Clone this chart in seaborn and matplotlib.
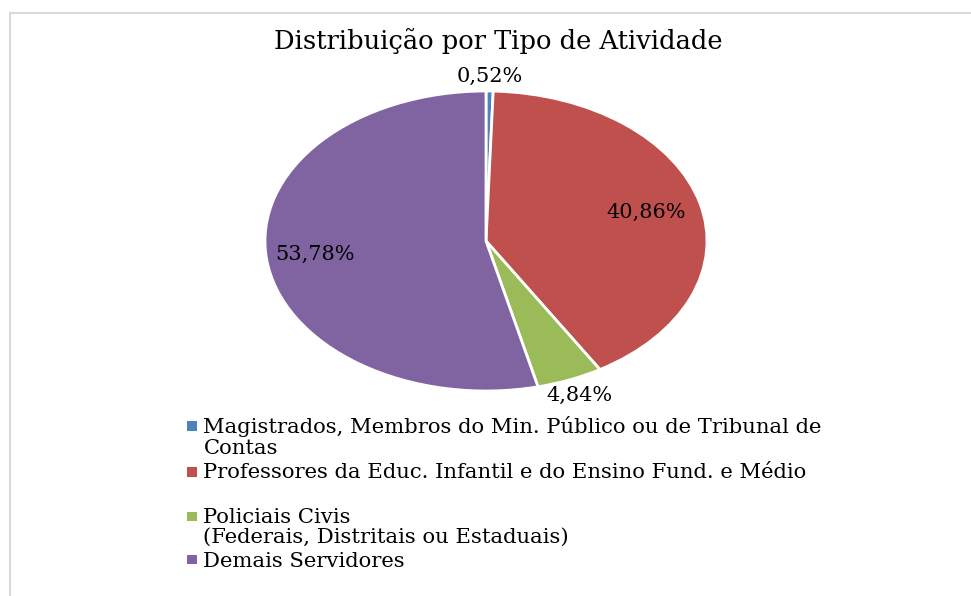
import seaborn as sns
import matplotlib.pyplot as plt
import numpy as np
from matplotlib.patches import Rectangle, Patch

categories = [
    "Magistrados, Membros do Min. Público ou de Tribunal de\nContas",
    "Professores da Educ. Infantil e do Ensino Fund. e Médio\n",
    "Policiais Civis\n(Federais, Distritais ou Estaduais)",
    "Demais Servidores",
]
shares = [0.52, 40.86, 4.84, 53.78]
pct_labels = ["0,52%", "40,86%", "4,84%", "53,78%"]
label_dist = [1.10, 0.75, 1.11, 0.78]

sns.set_theme(style="white")
plt.rcParams['font.family'] = ['DejaVu Serif']
plt.rcParams['text.color'] = 'black'
colors = sns.color_palette(["#4F81BD", "#C0504D", "#9BBB59", "#8064A2"])

fig = plt.figure(figsize=(9.71, 5.96), dpi=100)
# pie area (stretched horizontally like the original)
cx, cy, rx, ry = 486, 241, 221, 150
ax = fig.add_axes([(cx - rx) / 971, (596 - cy - ry) / 596, 2 * rx / 971, 2 * ry / 596])
wedges, _ = ax.pie(shares, colors=colors, startangle=90, counterclock=False,
                   wedgeprops=dict(edgecolor="white", linewidth=2))
ax.set_aspect("auto")
ax.set_xlim(-1, 1)
ax.set_ylim(-1, 1)
ax.axis("off")

for w, txt, d in zip(wedges, pct_labels, label_dist):
    ang = np.deg2rad((w.theta1 + w.theta2) / 2)
    ax.text(d * np.cos(ang), d * np.sin(ang), txt, ha="center", va="center",
            fontsize=15, color="black")

fig.text(498 / 971, 1 - 41 / 596, "Distribuição por Tipo de Atividade",
         ha="center", va="center", fontsize=18.5, color="black")

handles = [Patch(facecolor=c, edgecolor="none") for c in colors]
leg = fig.legend(handles, categories, loc="upper left",
                 bbox_to_anchor=(187 / 971, 1 - 416 / 596), frameon=False,
                 fontsize=15.2, handlelength=0.48, handleheight=0.3,
                 handletextpad=0.3, labelspacing=0.25, borderpad=0,
                 borderaxespad=0)
for t in leg.get_texts():
    t.set_linespacing(1.1)
    t.set_color("black")
# put the colour square next to the first line of each label
for h, lab in zip(leg.legend_handles, categories):
    nlines = lab.count("\n") + 1
    h.set_y(h.get_y() + (nlines - 1) * 7.6)

# light frame (cut off at right and bottom)
fig.add_artist(Rectangle((10 / 971, -0.1), 1.2, 1.1 - 13 / 596,
                         transform=fig.transFigure, fill=False,
                         edgecolor="#d9d9d9", linewidth=1.5))

fig.savefig("out.png", dpi=100)
